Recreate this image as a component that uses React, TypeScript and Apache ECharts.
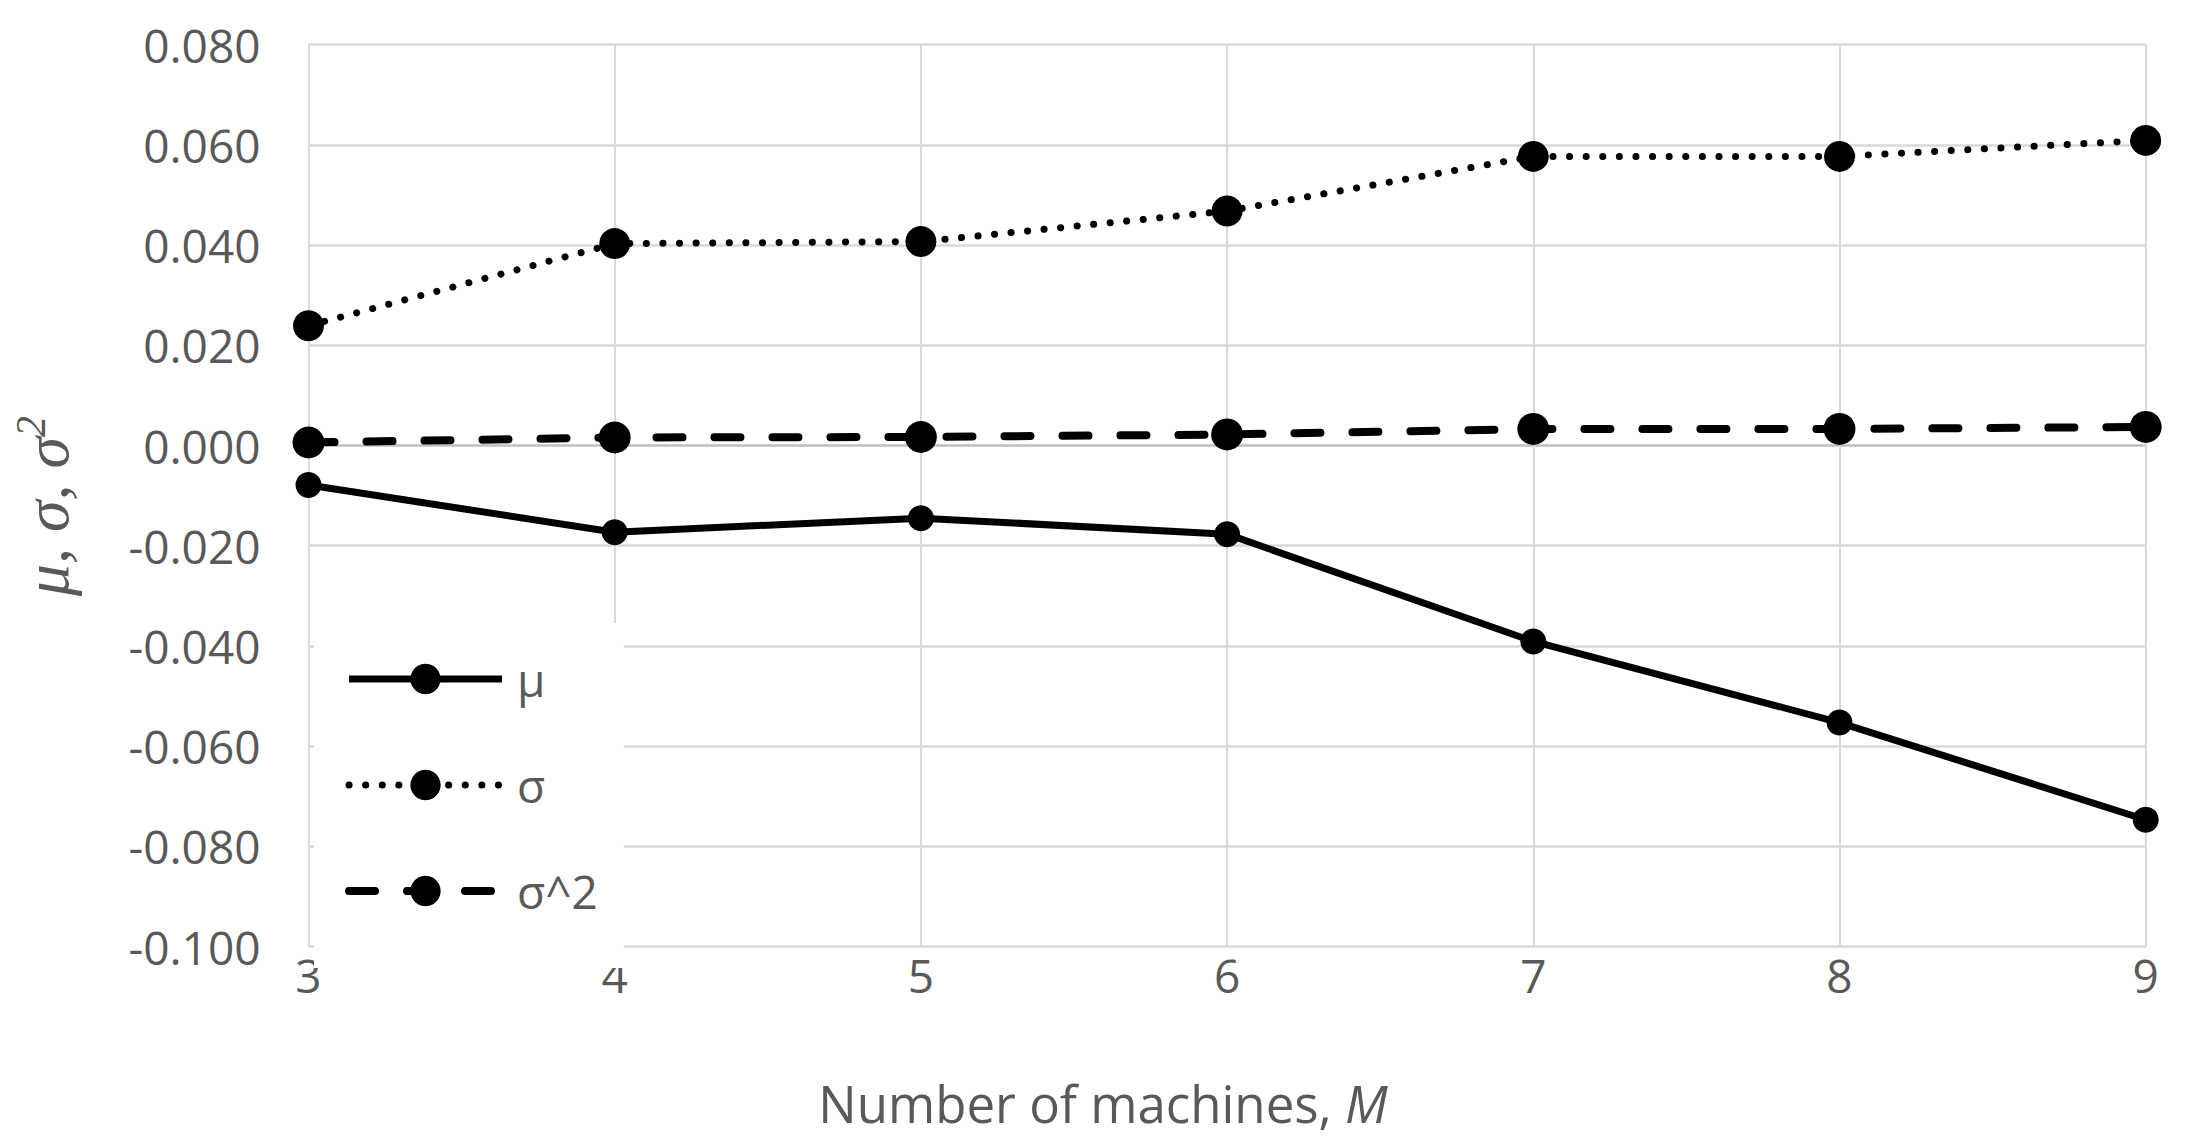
import React, { useEffect, useRef } from "react";
import * as echarts from "echarts";

const machines = [3, 4, 5, 6, 7, 8, 9];
const muValues = [-0.0079, -0.0173, -0.0145, -0.0177, -0.0391, -0.0553, -0.0747];
const sigmaValues = [0.0239, 0.0403, 0.0407, 0.0468, 0.0577, 0.0577, 0.0609];
const sigma2Values = [0.0006, 0.0016, 0.0017, 0.0022, 0.0033, 0.0033, 0.0037];
const seriesNames = ["μ", "σ", "σ^2"];
const yTickMin = -0.1;
const yTickMax = 0.08;
const yTickStep = 0.02;

const FONT = "'Open Sans', 'Noto Sans', sans-serif";
const GRAY_TEXT = "#595959";

const muLine = { color: "#000000", width: 7, type: "solid" as const };
const sigmaLine = { color: "#000000", width: 7, type: [0.1, 16.5], cap: "round" as const };
const sigma2Line = { color: "#000000", width: 8, type: [26, 32], cap: "round" as const };

export default function App() {
  const ref = useRef<HTMLDivElement>(null);

  useEffect(() => {
    document.body.style.margin = "0";
    if (!ref.current) return;
    const chart = echarts.init(ref.current, undefined, { renderer: "svg" });
    const pairs = (vals: number[]) => machines.map((m, i) => [m, vals[i]]);

    const hColors: string[] = [];
    for (let i = 0; i < 10; i++) hColors.push(i === 5 ? "#bfbfbf" : "#d9d9d9");

    chart.setOption({
      animation: false,
      backgroundColor: "#ffffff",
      grid: { left: 308.5, right: 43.3, top: 44.7, bottom: 197.5, containLabel: false },
      xAxis: {
        type: "value",
        min: 3,
        max: 9,
        interval: 1,
        axisLine: { show: false },
        axisTick: { show: false },
        axisLabel: { color: GRAY_TEXT, fontSize: 46, fontFamily: FONT, margin: 5 },
        splitLine: { show: true, lineStyle: { color: "#d9d9d9", width: 2 } },
      },
      yAxis: {
        type: "value",
        min: yTickMin,
        max: yTickMax,
        interval: yTickStep,
        axisLine: { show: false },
        axisTick: { show: false },
        axisLabel: {
          color: GRAY_TEXT,
          fontSize: 46,
          fontFamily: FONT,
          margin: 48,
          formatter: (v: number) => v.toFixed(3),
        },
        splitLine: { show: true, lineStyle: { color: hColors, width: 2.5 } },
      },
      legend: {
        orient: "vertical",
        left: 314,
        top: 623,
        z: 10,
        backgroundColor: "#ffffff",
        padding: [33, 26, 54, 31],
        itemWidth: 153,
        itemHeight: 38,
        itemGap: 60,
        textStyle: { color: GRAY_TEXT, fontSize: 46, fontFamily: FONT, padding: [0, 0, 0, 10] },
        data: [
          { name: seriesNames[0], lineStyle: muLine },
          { name: seriesNames[1], lineStyle: sigmaLine },
          { name: seriesNames[2], lineStyle: sigma2Line },
        ],
      },
      graphic: [
        {
          type: "text",
          x: 1103,
          y: 1103,
          z: 10,
          style: {
            text: "{n|Number of machines, }{m|M}",
            align: "center",
            verticalAlign: "middle",
            fill: GRAY_TEXT,
            rich: {
              n: { fontSize: 51, fontFamily: FONT, fill: GRAY_TEXT },
              m: { fontSize: 51, fontFamily: FONT, fontStyle: "italic", fill: GRAY_TEXT },
            },
          },
        },
        {
          type: "text",
          x: 46,
          y: 506,
          rotation: Math.PI / 2,
          z: 10,
          style: {
            text: "{a|μ, σ, σ}{b|2}",
            align: "center",
            verticalAlign: "middle",
            fill: GRAY_TEXT,
            rich: {
              a: {
                fontSize: 64,
                fontFamily: "'Liberation Serif', 'DejaVu Serif', serif",
                fontStyle: "italic",
                fill: GRAY_TEXT,
                lineHeight: 72,
              },
              b: {
                fontSize: 42,
                fontFamily: "'Liberation Serif', 'DejaVu Serif', serif",
                fontStyle: "italic",
                fill: GRAY_TEXT,
                verticalAlign: "top",
                lineHeight: 72,
              },
            },
          },
        },
      ],
      series: [
        {
          name: seriesNames[0],
          type: "line",
          data: pairs(muValues),
          symbol: "circle",
          symbolSize: 26,
          itemStyle: { color: "#000000" },
          lineStyle: muLine,
        },
        {
          name: seriesNames[1],
          type: "line",
          data: pairs(sigmaValues),
          symbol: "circle",
          symbolSize: 31,
          itemStyle: { color: "#000000" },
          lineStyle: sigmaLine,
        },
        {
          name: seriesNames[2],
          type: "line",
          data: pairs(sigma2Values),
          symbol: "circle",
          symbolSize: 32,
          itemStyle: { color: "#000000" },
          lineStyle: sigma2Line,
        },
      ],
    });
    return () => chart.dispose();
  }, []);

  return <div ref={ref} style={{ width: 2189, height: 1144 }} />;
}
